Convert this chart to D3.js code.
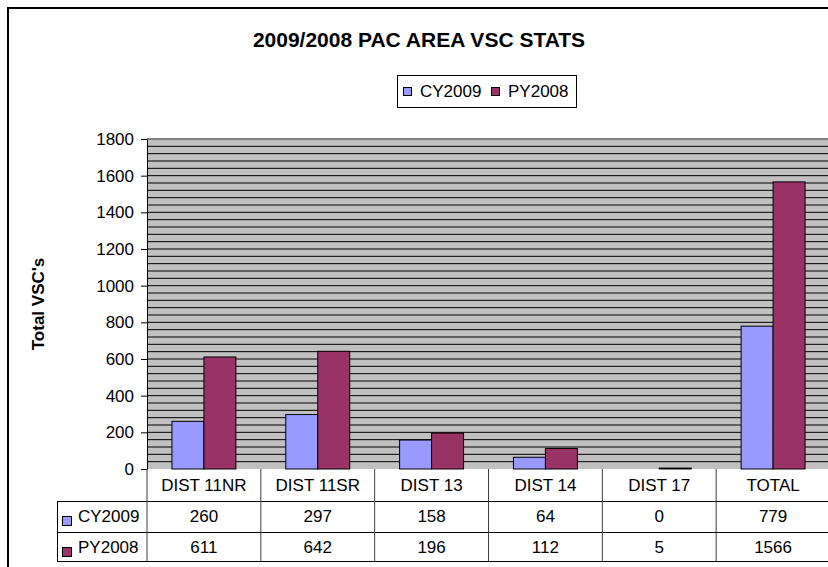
<!DOCTYPE html>
<html>
<head>
<meta charset="utf-8">
<script src="https://cdn.jsdelivr.net/npm/d3@7"></script>
<style>
  body { margin: 0; background: #fff; }
  svg { display: block; font-family: "Liberation Sans", Arial, sans-serif; }
</style>
</head>
<body>
<div id="container"></div>
<script>
var categories = ["DIST 11NR", "DIST 11SR", "DIST 13", "DIST 14", "DIST 17", "TOTAL"];
var cy2009 = [260, 297, 158, 64, 0, 779];
var py2008 = [611, 642, 196, 112, 5, 1566];
var seriesNames = ["CY2009", "PY2008"];
var seriesColors = ["#9999ff", "#993366"];
var yTickValues = [0, 200, 400, 600, 800, 1000, 1200, 1400, 1600, 1800];

var width = 828, height = 567;
var plot = { left: 147, top: 139, right: 830, bottom: 469 };
var rowH = [469, 501, 532, 561];

var svg = d3.select('#container').append('svg').attr('width', width).attr('height', height);

// chart frame
svg.append('rect').attr('x', 8).attr('y', 8).attr('width', 900).attr('height', 600)
    .attr('fill', '#fff').attr('stroke', '#000').attr('stroke-width', 2);

var x = d3.scaleBand().domain(categories).range([plot.left, plot.right]);
var x1 = d3.scaleBand().domain(seriesNames).range([0, x.bandwidth()]).paddingOuter(0.78);
var y = d3.scaleLinear().domain([0, 1800]).range([plot.bottom, plot.top]);

// plot background + grid
svg.append('rect').attr('x', plot.left).attr('y', plot.top)
    .attr('width', plot.right - plot.left).attr('height', plot.bottom - plot.top)
    .attr('fill', '#c0c0c0');
svg.append('g').selectAll('line').data(d3.range(40, 1800, 40)).enter().append('line')
    .attr('x1', plot.left).attr('x2', plot.right)
    .attr('y1', function (d) { return y(d); }).attr('y2', function (d) { return y(d); })
    .attr('stroke', '#000').attr('stroke-width', 1);
svg.append('line').attr('x1', plot.left).attr('x2', plot.right)
    .attr('y1', plot.top).attr('y2', plot.top).attr('stroke', '#808080').attr('stroke-width', 2);

// bars
var rows = categories.map(function (c, i) { return { cat: c, vals: [cy2009[i], py2008[i]] }; });
var groups = svg.append('g').selectAll('g').data(rows).enter().append('g')
    .attr('transform', function (d) { return 'translate(' + x(d.cat) + ',0)'; });
groups.selectAll('rect').data(function (d) {
    return d.vals.map(function (v, j) { return { name: seriesNames[j], v: v, j: j }; });
}).enter().append('rect')
    .attr('x', function (d) { return x1(d.name); })
    .attr('width', x1.bandwidth())
    .attr('y', function (d) { return y(d.v); })
    .attr('height', function (d) { return plot.bottom - y(d.v); })
    .attr('fill', function (d) { return seriesColors[d.j]; })
    .attr('stroke', '#000').attr('stroke-width', 1);

// y axis
var yAxis = d3.axisLeft(y).tickValues(yTickValues).tickFormat(d3.format('d'))
    .tickSize(6).tickSizeOuter(0).tickPadding(7);
var ya = svg.append('g').attr('class', 'y axis').attr('transform', 'translate(' + plot.left + ',0)').call(yAxis);
ya.select('.domain').attr('stroke', '#000');
ya.selectAll('text').attr('font-size', 17).attr('fill', '#000')
    .attr('font-family', '"Liberation Sans", Arial, sans-serif');

svg.append('text').attr('transform', 'translate(44,304) rotate(-90)')
    .attr('text-anchor', 'middle').attr('font-size', 17).attr('font-weight', 'bold')
    .text("Total VSC's");

// title
svg.append('text').attr('x', 419).attr('y', 47).attr('text-anchor', 'middle')
    .attr('font-size', 21).attr('font-weight', 'bold').text('2009/2008 PAC AREA VSC STATS');

// legend
var lg = svg.append('g');
lg.append('rect').attr('x', 397.5).attr('y', 75.5).attr('width', 179).attr('height', 32)
    .attr('fill', '#fff').attr('stroke', '#000');
var legX = [403, 491];
seriesNames.forEach(function (n, i) {
    lg.append('rect').attr('x', legX[i] + 0.5).attr('y', 87.5).attr('width', 8).attr('height', 8)
        .attr('fill', seriesColors[i]).attr('stroke', '#000');
    lg.append('text').attr('x', legX[i] + 17).attr('y', 97).attr('font-size', 17).text(n);
});

// data table
var tbl = svg.append('g');
var tableLeft = 57;
[501, 532, 561].forEach(function (yy) {
    tbl.append('line').attr('x1', tableLeft).attr('x2', plot.right).attr('y1', yy + 0.5).attr('y2', yy + 0.5)
        .attr('stroke', '#000');
});
tbl.append('line').attr('x1', tableLeft + 0.5).attr('x2', tableLeft + 0.5).attr('y1', 501).attr('y2', 561)
    .attr('stroke', '#000');
categories.concat(['end']).forEach(function (c, i) {
    var xx = i < categories.length ? x(c) : plot.right;
    tbl.append('line').attr('x1', xx).attr('x2', xx).attr('y1', 469).attr('y2', 561)
        .attr('stroke', '#404040');
});
tbl.selectAll('.cat').data(categories).enter().append('text').attr('class', 'cat')
    .attr('x', function (d) { return x(d) + x.bandwidth() / 2; }).attr('y', 491)
    .attr('text-anchor', 'middle').attr('font-size', 17).text(function (d) { return d; });
[cy2009, py2008].forEach(function (vals, r) {
    var base = rowH[r + 1] + 21;
    tbl.selectAll('.v' + r).data(vals).enter().append('text').attr('class', 'v' + r)
        .attr('x', function (d, i) { return x(categories[i]) + x.bandwidth() / 2; }).attr('y', base)
        .attr('text-anchor', 'middle').attr('font-size', 17).text(function (d) { return d; });
    tbl.append('rect').attr('x', 62.5).attr('y', rowH[r + 1] + 15.5).attr('width', 9).attr('height', 9)
        .attr('fill', seriesColors[r]).attr('stroke', '#000');
    tbl.append('text').attr('x', 78).attr('y', base).attr('font-size', 17).text(seriesNames[r]);
});
</script>
</body>
</html>
